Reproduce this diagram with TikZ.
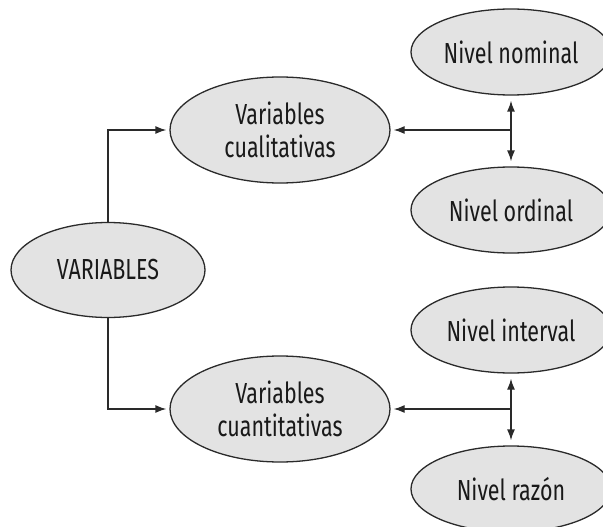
\documentclass[tikz,border=0pt]{standalone}
\usepackage{fontspec}
\setmainfont{Fira Sans}[FakeStretch=0.74]
\usetikzlibrary{arrows.meta, shapes.geometric}

\definecolor{ovalfill}{HTML}{E3E3E3}
\definecolor{ovalline}{HTML}{2A2A2A}

\tikzset{
  oval/.style = {ellipse, draw=ovalline, fill=ovalfill, line width=1.3pt, inner sep=0pt,
                 align=center, text=black!90, font=\fontsize{29}{33}\selectfont},
  small/.style = {oval, minimum width=200pt, minimum height=86pt},
  big/.style = {oval, minimum width=220pt, minimum height=106pt},
  link/.style = {draw=ovalline, line width=1.3pt, >={Latex[length=11pt,width=8pt]}}
}

\begin{document}
\begin{tikzpicture}[x=1pt, y=-1pt]
\useasboundingbox (0,0) rectangle (603,527);

\node[oval, minimum width=194pt, minimum height=95pt] (var) at (108,270) {VARIABLES};
\node[big] (cual) at (280,130) {Variables\\cualitativas};
\node[big] (cuan) at (280,409) {Variables\\cuantitativas};
\node[small] (nom) at (511,52) {Nivel nominal};
\node[small] (ord) at (511,210) {Nivel ordinal};
\node[small] (int) at (511,330) {Nivel interval};
\node[small] (raz) at (511,489) {Nivel razón};

% from the root
\draw [link, ->, shorten >=3pt] (var.north) |- (cual.west);
\draw [link, ->, shorten >=3pt] (var.south) |- (cuan.west);

% upper pair
\draw [link, <->, shorten <=5pt, shorten >=5pt] (nom.south) -- (ord.north);
\draw [link, ->, shorten >=3pt] (nom.south |- cual.east) -- (cual.east);

% lower pair
\draw [link, <->, shorten <=5pt, shorten >=5pt] (int.south) -- (raz.north);
\draw [link, ->, shorten >=3pt] (int.south |- cuan.east) -- (cuan.east);
\end{tikzpicture}
\end{document}
